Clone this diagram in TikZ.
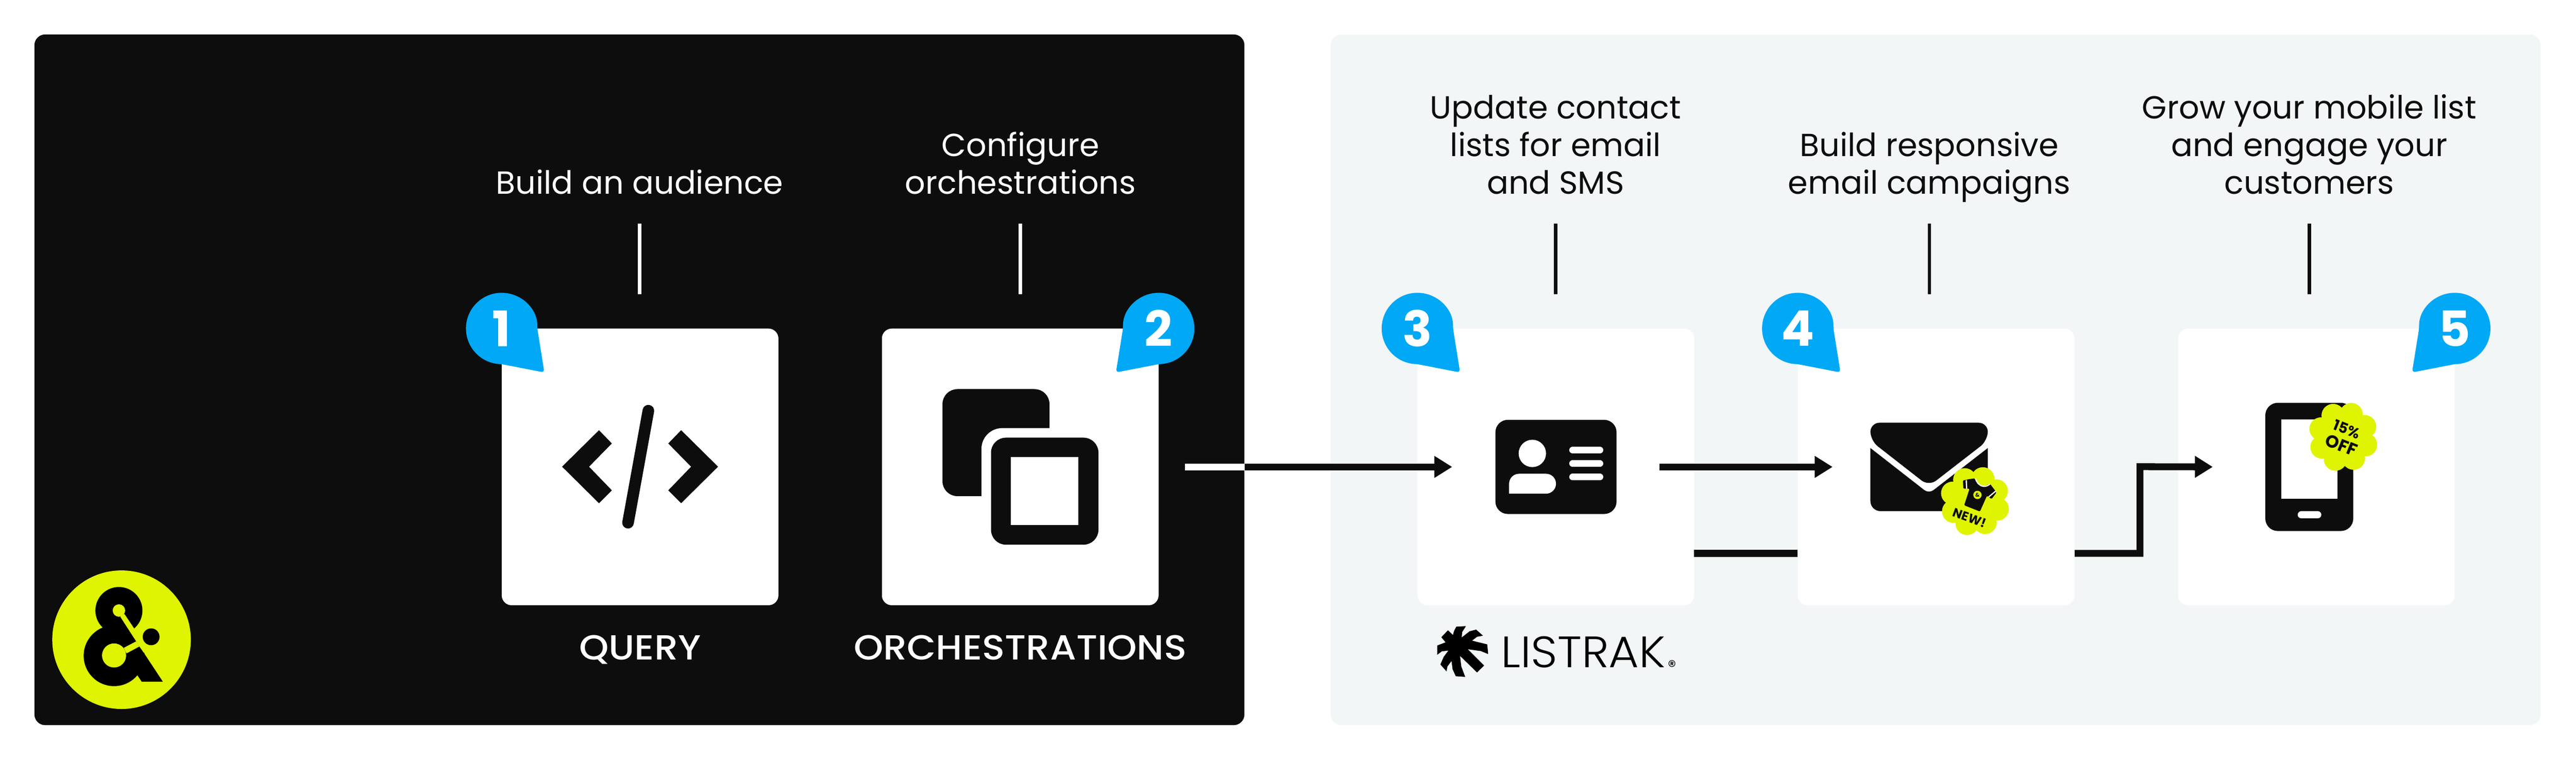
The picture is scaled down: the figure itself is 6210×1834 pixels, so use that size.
\documentclass[tikz,border=0pt]{standalone}
\usepackage{fontspec}
\setmainfont{Poppins}
\newfontface\mediumface{Poppins Medium}[FakeStretch=1.08]
\newfontface\lightface{Poppins Light}[FakeStretch=1.055]
\usetikzlibrary{arrows.meta,positioning,calc}
\definecolor{ink}{HTML}{0D0D0D}
\definecolor{mist}{HTML}{F2F6F7}
\definecolor{pinblue}{HTML}{00A8F5}
\definecolor{lime}{HTML}{DFF400}
\tikzset{
  panel/.style={rounded corners=26pt,inner sep=0pt,minimum width=2917pt,minimum height=1665pt},
  card/.style={fill=white,rounded corners=24pt,inner sep=0pt,minimum size=667pt},
  toplabel/.style={font=\fontsize{77}{91}\selectfont,align=center,anchor=south,inner sep=0pt,text depth=20pt},
  titlelabel/.style={font=\fontsize{84}{91}\selectfont\mediumface,text=white,inner sep=0pt,text height=57pt,text depth=0pt},
  pinlabel/.style={font=\fontsize{118}{118}\selectfont\bfseries,text=white,inner sep=0pt},
  wire/.style={line width=16.5pt,draw=ink},
  wirehead/.style={-{Triangle[length=43pt,width=50pt]}},
  leader/.style={line width=8pt,shorten <=50pt,shorten >=83pt}
}
\newcommand{\droppin}[3]{
  \begin{scope}[shift={(#1)},x=1pt,y=1pt,xscale=#2]
    \fill[pinblue] (86,0) arc[start angle=0,end angle=270,radius=86pt]
      [rounded corners=8pt] -- (103,-106) -- (86,0) -- cycle;
  \end{scope}
  \node[pinlabel] (pin#3) at (#1) {#3};
}
\newcommand{\flower}[2]{
  \fill[lime] (#1,#2) circle[radius=60pt];
  \foreach \a in {0,...,7}{
    \fill[lime] (#1,#2) ++({25.5+45*\a}:57pt) circle[radius=28pt];
  }
}
\begin{document}
\begin{tikzpicture}[x=1pt,y=-1pt]
\useasboundingbox (0,0) rectangle (6210,1834);
\node[panel,fill=ink] (darkpanel) at (1541.5,915.5) {};
\node[panel,fill=mist] (lightpanel) at (4666,915.5) {};
\foreach \name/\x in {query/1543,orch/2459.5,contact/3750.5,mail/4667.5,phone/5584}{
  \node[card] (\name) at (\x,1125.5) {};
}
\foreach \i/\x/\col/\txt in {1/1542/white/{Build an audience},2/2460/white/{Configure\\orchestrations},3/3750/ink/{Update contact\\lists for email\\and SMS},4/4651/ink/{Build responsive\\email campaigns},5/5567/ink/{Grow your mobile list\\and engage your\\customers}}{
  \node[toplabel,text=\col] (lab\i) at (\x,488) {\txt};
  \draw[leader,draw=\col,shorten <=51pt] (lab\i.south) -- (lab\i.south |- query.north);
}
\node[titlelabel,below=74pt of query] (querytitle) {QUERY};
\node[titlelabel,below=74pt of orch] (orchtitle) {ORCHESTRATIONS};
\draw[wire,draw=white] ([xshift=63pt]orch.east) -- (orch -| darkpanel.east);
\draw[wire,wirehead] (orch -| darkpanel.east) -- ([xshift=84pt]contact.west);
\draw[wire,wirehead] ([xshift=-84pt]contact.east) -- ([xshift=84pt]mail.west);
\draw[wire] ([yshift=-208.5pt]contact.east) -- ([yshift=-208.5pt]mail.west);
\coordinate (bend) at (5159,1125);
\draw[wire,wirehead] ([yshift=-208.5pt]mail.east) -| (bend) -- ([xshift=84pt]phone.west);
\droppin{query.north west}{1}{1}
\droppin{orch.north east}{-1}{2}
\droppin{contact.north west}{1}{3}
\droppin{mail.north west}{1}{4}
\droppin{phone.north east}{-1}{5}
\fill[ink] (1355,1125) -- (1444,1037) -- (1475,1069) -- (1420,1125) -- (1475,1182) -- (1444,1213) -- cycle;
\fill[ink] (1731,1125) -- (1642,1037) -- (1611,1069) -- (1666,1125) -- (1611,1182) -- (1642,1213) -- cycle;
\draw[ink,line width=28pt,line cap=round] (1563,990) -- (1514,1260);
\fill[ink,rounded corners=36pt] (2272,938) rectangle (2530,1196);
\fill[white,rounded corners=50pt] (2366,1032) rectangle (2680,1340);
\fill[ink,rounded corners=36pt] (2389,1055) rectangle (2648,1313);
\fill[white] (2437,1102) rectangle (2600,1266);
\fill[ink,rounded corners=30pt] (3605,1012) rectangle (3897,1239);
\fill[white] (3694,1093) circle[radius=33pt];
\fill[white,rounded corners=24pt] (3638,1190) -- (3638,1142) -- (3751,1142) -- (3751,1190) [sharp corners] -- cycle;
\foreach \y in {1085,1117.5,1150}{
  \draw[white,line width=16pt,line cap=round] (3791,\y) -- (3857,\y);
}
\fill[ink,rounded corners=22pt] (4509,1019) -- (4792,1019) -- (4792,1062) -- (4650,1172) -- (4509,1062) -- cycle;
\fill[ink] (4509,1080) -- (4509,1208) [rounded corners=24pt] -- (4509,1232) -- (4792,1232) [sharp corners] -- (4792,1080) [rounded corners=14pt] -- (4650,1190) [sharp corners] -- cycle;
\flower{4761}{1208}
\fill[ink,rounded corners=3pt] (4747,1155) -- (4761,1153) -- (4768,1168) -- (4784,1172) -- (4797,1166) -- (4813,1187) -- (4801,1203) -- (4790,1195) -- (4773,1233) -- (4735,1218) -- (4748,1178) -- (4733,1178) -- (4732,1158) -- cycle;
\draw[white,line width=3pt] (4740,1157) -- (4741,1178);
\draw[white,line width=3pt] (4794,1198) -- (4812,1183);
\draw[white,line width=3pt] (4762,1153) .. controls (4768,1172) and (4784,1178) .. (4797,1167);
\node[circle,fill=lime,inner sep=0pt,minimum size=20pt,text=ink,font=\fontsize{13}{13}\selectfont\bfseries] (shirtmark) at (4767,1193) {\&};
\node[rotate=-20,text=ink,inner sep=0pt,font=\fontsize{30}{30}\selectfont\bfseries] (newtag) at (4748,1248) {NEW!};
\fill[ink,rounded corners=30pt] (5461,971) rectangle (5673,1280);
\fill[white] (5499,1011) rectangle (5635,1202);
\draw[white,line width=18pt,line cap=round] (5548,1241) -- (5587,1241);
\flower{5649}{1053}
\node[rotate=-22,text=ink,inner sep=0pt,font=\fontsize{35}{35}\selectfont\bfseries] (percenttag) at (5657,1035) {15\%};
\node[rotate=-22,text=ink,inner sep=0pt,font=\fontsize{42}{42}\selectfont\bfseries] (offtag) at (5644,1073) {OFF};
\fill[lime] (293,1542) circle[radius=167pt];
\begin{scope}[shift={(60,1340)},x=1pt/3,y=-1pt/3]
  \fill[black] (680,395) circle[radius=56.7pt];
  \fill[black] (645,722) circle[radius=73.3pt];
  \fill[black] (800,610) -- (998,910) -- (845,910) -- (815,865) -- (700,700) -- cycle;
  \fill[lime] (720,420) -- (790,525) -- (900,560) -- (900,690) -- (860,700) -- (828,655) -- (805,618) -- (690,440) -- cycle;
  \fill[lime] (715,665) -- (805,618) -- (828,655) -- (735,705) -- cycle;
  \fill[lime] (680,395) circle[radius=15pt];
  \fill[lime] (645,720) circle[radius=29pt];
  \fill[black] (913,585) circle[radius=20.3pt];
\end{scope}
\begin{scope}[shift={(3400,1480)},x=1pt/2.24,y=-1pt/3]
  \fill[black] (248,92) -- (300,88) -- (280,130) -- (277,170) -- (320,125) -- (355,113) -- (392,157) -- (360,165) -- (333,193) -- (415,220) -- (420,290) -- (380,268) -- (310,255) -- (398,373) -- (360,423) -- (268,303) -- (275,380) -- (296,455) -- (245,450) -- (228,400) -- (222,340) -- (200,380) -- (195,415) -- (162,365) -- (180,310) -- (205,265) -- (170,270) -- (145,295) -- (145,228) -- (190,205) -- (167,168) -- (203,118) -- (230,152) -- (235,125) -- cycle;
\end{scope}
\node[text=black,inner sep=0pt,anchor=base west,font=\fontsize{106}{106}\selectfont\lightface] (listrak) at (3618,1609) {LISTRAK};
\node[text=black,inner sep=0pt,font=\fontsize{40}{40}\selectfont] (listrakreg) at (4031,1606) {®};
\end{tikzpicture}
\end{document}
